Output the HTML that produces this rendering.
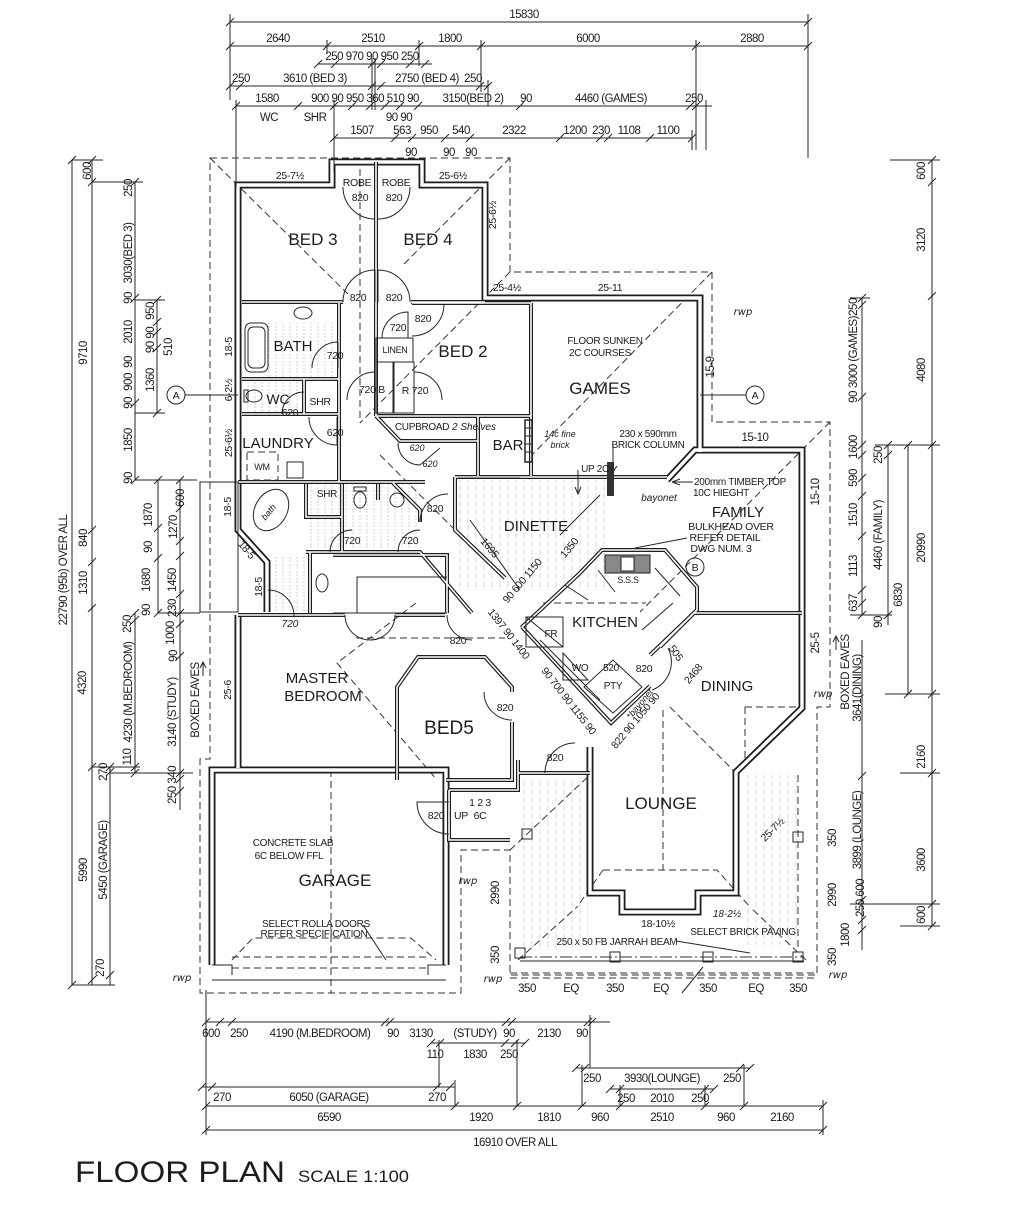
<!DOCTYPE html>
<html><head><meta charset="utf-8">
<style>
html,body{margin:0;padding:0;background:#fff;}
svg{display:block;}
text{font-family:"Liberation Sans Narrow","Liberation Sans",sans-serif;fill:#1c1c1c;}
.d{font-size:11.5px;letter-spacing:-0.5px;}
.s{font-size:10px;}
.m{font-size:10.5px;letter-spacing:-0.3px;}
.r{font-size:17px;}
.h{font-family:"DejaVu Sans","Liberation Sans",sans-serif;font-style:italic;font-size:10px;}
.l{stroke:#262626;stroke-width:1;fill:none;}
.t{stroke:#262626;stroke-width:1;fill:none;}
.dash{stroke:#333;stroke-width:1;fill:none;stroke-dasharray:7 4;}
</style></head><body>
<svg width="1024" height="1209" viewBox="0 0 1024 1209" xmlns="http://www.w3.org/2000/svg">
<defs>
<pattern id="tile" width="7" height="7" patternUnits="userSpaceOnUse"><path d="M3,0 V7" stroke="#c4c4c4" stroke-width="0.8" stroke-dasharray="2 2"/></pattern>
<pattern id="vl" width="8" height="8" patternUnits="userSpaceOnUse"><path d="M4,0 V8" stroke="#d0d0d0" stroke-width="0.8" stroke-dasharray="3 2"/></pattern>
<path id="ext" d="M238,300 V185 H332 V162 H422 V185 H485 V298 H700 V452
M238,185 V530 L267,562 V612
M238,615 V768
M667,480 L695,450 H802 V708 L736,772 V893 H698 V912 H622 V893 H590 V747
M212,965 V770 H446 V965"/>
<path id="int" d="M376,162 V302
M242,302 H343 M411,302 H485
M412,303 H531 M531,303 V476
M376,416 H531
M339,303 V482
M242,379 H339 M242,414 H339 M304,379 V414
M238,482 H425
M376,302 V416
M376,416 L400,441 H478 M478,416 V476
M455,477 H667
M306,484 V517 H342 M342,484 V552 M378,484 V500
M393,483 L420,510 V522
M306,552 H420 L472,613
M455,477 V530 L505,578
M238,615 H345 M395,615 H445
M310,552 V613 M333,555 H447 V613
M397,780 V687 L418,657 H485 L512,687 V692 M512,722 V780 H446
M449,790 V840 H510
M518,760 V790 H449
M518,773 H590
M694,613 H802 M694,613 L660,647
M580,573 L602,550 H665 L697,587 V610 L650,655
M522,627 L580,573
M522,627 L611,723 L650,686"/>
</defs>
<rect width="1024" height="1209" fill="#fff"/>

<!-- hatched floors -->
<rect x="268" y="323" width="70" height="54" fill="url(#tile)"/>
<rect x="242" y="380" width="60" height="33" fill="url(#tile)"/>
<rect x="306" y="484" width="114" height="68" fill="url(#tile)"/>
<rect x="270" y="555" width="40" height="57" fill="url(#tile)"/>
<rect x="458" y="480" width="150" height="110" fill="url(#vl)"/>
<rect x="520" y="780" width="68" height="170" fill="url(#vl)"/>
<rect x="745" y="775" width="55" height="170" fill="url(#vl)"/>

<!-- eaves dashed outline & hips -->
<g class="dash">
<path d="M210,158 H510 V272 H712 V422 H830 V707 H817 V975 H510 V850 H461 V993 H200 V759 H210 Z"/>
<path d="M210,158 L350,296 M510,158 L404,264 M360,158 V423 M510,272 L360,423 M712,272 L527,460 M455,530 L380,455"/>
<path d="M830,422 L640,612 M745,707 H800 M745,707 V767 M670,707 L733,770"/>
<path d="M356,638 H505 M416,603 L337,663 L437,780"/>
<path d="M663,710 V870 M603,870 H717 L750,907 M603,870 L577,907"/>
<path d="M510,850 L592,773 M518,960 L577,907 M806,960 L750,907 M798,775 V950"/>
<path d="M331,770 V993 M232,960 L253,938 H411 L436,960 M232,957 H428 M232,968 H428"/>
<path d="M510,973 H817 M510,978 H817"/>
<path d="M543,603 H646 M520,627 L556,597"/>
</g>
<path d="M520,957 H804" stroke="#333" stroke-width="1" stroke-dasharray="12 3 2 3" fill="none"/>
<path d="M520,961 H804" class="l"/>

<!-- walls -->
<use href="#ext" fill="none" stroke="#1e1e1e" stroke-width="7"/>
<use href="#ext" fill="none" stroke="#fff" stroke-width="3.4"/>
<use href="#int" fill="none" stroke="#1e1e1e" stroke-width="4"/>
<use href="#int" fill="none" stroke="#fff" stroke-width="1.6"/>
<path class="l" d="M212,965 H232 V975 M446,965 H428 V975 M212,980 H446"/>
<rect x="200" y="482" width="38" height="130" class="l"/>
<rect x="607" y="462" width="7" height="34" fill="#333"/>
<rect x="525" y="420" width="7" height="42" fill="none" stroke="#222" stroke-width="1.5"/>
<path class="l" d="M525,428 H532 M525,436 H532 M525,444 H532 M525,452 H532"/>
<rect x="376" y="338" width="37" height="24" class="l"/>
<rect x="376" y="362" width="17" height="51" class="l"/>
<rect x="394" y="362" width="20" height="51" class="l"/>
<path class="l" d="M357,613 V577 H447 M333,613 H447"/>

<!-- fixtures -->
<rect x="245" y="323" width="23" height="49" rx="6" class="l"/>
<rect x="248" y="327" width="17" height="41" rx="5" class="l"/>
<ellipse cx="303" cy="313" rx="9" ry="6" class="l"/>
<ellipse cx="254" cy="396" rx="8" ry="6" class="l"/>
<rect x="244" y="390" width="4" height="12" class="l"/>
<ellipse cx="360" cy="500" rx="6" ry="8" class="l"/>
<rect x="354" y="487" width="12" height="4" class="l"/>
<ellipse cx="397" cy="500" rx="7" ry="7" class="l"/>
<ellipse cx="322" cy="583" rx="6" ry="9" class="l"/>
<ellipse cx="271" cy="510" rx="16" ry="22" transform="rotate(30 271 510)" class="l"/>
<rect x="247" y="452" width="31" height="28" class="dash"/>
<rect x="287" y="462" width="16" height="16" class="l"/>
<rect x="605" y="555" width="45" height="18" fill="#888" stroke="#222"/>
<rect x="621" y="557" width="13" height="14" fill="#fff" stroke="#222"/>
<path class="l" d="M526,617 L563,647 M563,653 L588,680 L563,680 Z M584,687 L613,660 L642,687 L613,713 Z M565,585 L588,600 M642,630 L673,603 M598,570 L615,592 M655,568 L680,596 M540,640 L600,700"/>
<rect x="526" y="617" width="37" height="30" class="l"/>
<g class="l">
<rect x="522" y="829" width="10" height="10"/><rect x="515" y="948" width="10" height="10"/>
<rect x="610" y="952" width="10" height="10"/><rect x="703" y="952" width="10" height="10"/>
<rect x="793" y="952" width="10" height="10"/><rect x="793" y="832" width="10" height="10"/>
</g>

<!-- doors -->
<g class="t">
<path d="M343,187 A32,32 0 0 0 375,219 M410,187 A32,32 0 0 1 378,219"/>
<path d="M343,302 A32,32 0 0 1 375,270 V302 M410,302 A32,32 0 0 0 378,270 V302"/>
<path d="M444,304 A32,32 0 0 1 412,336 M382,338 A26,26 0 0 1 408,312 V338"/>
<path d="M347,400 A28,28 0 0 1 375,372 M442,400 A28,28 0 0 0 414,372"/>
<path d="M338,342 A26,26 0 0 0 312,368 M338,342 V368"/>
<path d="M282,414 A22,22 0 0 1 304,392"/>
<path d="M309,417 A28,28 0 0 0 337,445 V417"/>
<path d="M398,443 A22,22 0 0 0 420,465 M420,465 L440,448"/>
<path d="M330,552 A22,22 0 0 1 352,530 M398,552 A22,22 0 0 1 420,530"/>
<path d="M420,522 A28,28 0 0 1 448,494"/>
<path d="M268,590 A26,26 0 0 1 294,616"/>
<path d="M345,615 A25,25 0 0 0 370,640 M395,615 A25,25 0 0 1 370,640"/>
<path d="M447,615 A25,25 0 0 0 472,640"/>
<path d="M512,720 A28,28 0 0 1 484,692"/>
<path d="M545,773 A30,30 0 0 1 575,743"/>
<path d="M449,834 A32,32 0 0 1 417,802 H449"/>
<path d="M652,690 A30,30 0 0 0 668,648"/>
</g>

<!-- leaders / arrows -->
<g class="l">
<path d="M185,395 H238"/><circle cx="176" cy="395" r="9"/>
<path d="M700,395 H746"/><circle cx="755" cy="395" r="9"/>
<circle cx="695" cy="567" r="9"/>
<path d="M687,538 L635,548 M672,482 H693 M613,445 V470 M578,470 V493 M363,925 L386,960 M676,941 L750,953 M682,993 L703,967"/>
<path d="M609,466 L613,472 L617,466 M575,487 L578,494 L581,487 M672,482 L680,479 M672,482 L680,485"/>
<path d="M203,676 V663 M200,668 L203,662 L206,668 M836,650 V636 M833,642 L836,636 L839,642"/>
<path d="M458,478 H520 M470,520 L520,590 M560,535 L600,495"/>
</g>

<!-- ===== TOP DIMENSIONS ===== -->
<g class="l">
<path d="M230,22 H808 M230,14 V100 M808,14 V158"/>
<path d="M230,46 H808 M327,40 V54 M419,40 V66 M481,40 V92 M696,40 V150"/>
<path d="M318,64 H432 M372,58 V110 M375,58 V110"/>
<path d="M230,86 H488 M488,80 V106"/>
<path d="M236,106 H712 M236,100 V188 M334,100 V172 M706,100 V150"/>
<path d="M334,138 H692 M692,130 V150"/>
<path d="M226,26l8,-8 M804,26l8,-8 M226,50l8,-8 M323,50l8,-8 M415,50l8,-8 M477,50l8,-8 M692,50l8,-8 M804,50l8,-8 M314,68l8,-8 M331,68l8,-8 M368,68l8,-8 M377,68l8,-8 M406,68l8,-8 M421,68l8,-8 M226,90l8,-8 M236,90l8,-8 M368,90l8,-8 M377,90l8,-8 M476,90l8,-8 M484,90l8,-8 M232,110l8,-8 M294,110l8,-8 M330,110l8,-8 M348,110l8,-8 M366,110l8,-8 M381,110l8,-8 M396,110l8,-8 M414,110l8,-8 M516,110l8,-8 M686,110l8,-8 M692,110l8,-8 M330,142l8,-8 M391,142l8,-8 M408,142l8,-8 M441,142l8,-8 M466,142l8,-8 M556,142l8,-8 M596,142l8,-8 M604,142l8,-8 M646,142l8,-8 M688,142l8,-8"/>
</g>
<g class="d" text-anchor="middle">
<text x="524" y="18">15830</text>
<text x="278" y="42">2640</text><text x="373" y="42">2510</text><text x="450" y="42">1800</text><text x="588" y="42">6000</text><text x="752" y="42">2880</text>
<text x="372" y="60">250 970 90 950 250</text>
<text x="241" y="82">250</text><text x="315" y="82">3610 (BED 3)</text><text x="427" y="82">2750 (BED 4)</text><text x="473" y="82">250</text>
<text x="267" y="102">1580</text><text x="365" y="102">900 90 950 360 510 90</text><text x="473" y="102">3150(BED 2)</text><text x="526" y="102">90</text><text x="611" y="102">4460 (GAMES)</text><text x="694" y="102">250</text>
<text x="269" y="121">WC</text><text x="315" y="121">SHR</text><text x="399" y="121">90 90</text>
<text x="362" y="134">1507</text><text x="402" y="134">563</text><text x="429" y="134">950</text><text x="461" y="134">540</text><text x="514" y="134">2322</text><text x="575" y="134">1200</text><text x="601" y="134">230</text><text x="629" y="134">1108</text><text x="668" y="134">1100</text>
<text x="411" y="156">90</text><text x="449" y="156">90</text><text x="471" y="156">90</text>
</g>

<!-- ===== LEFT DIMENSIONS ===== -->
<g class="l">
<path d="M72,160 V985 M92,160 V985 M110,767 V985 M135,182 V480 M135,613 V773 M157,300 V413 M158,480 V613 M180,480 V810"/>
<path d="M72,160 H103 M92,182 H143 M135,300 H165 M135,413 H165 M135,480 H197 M158,613 H200 M110,773 H193 M92,767 H140 M72,985 H115"/>
<path d="M68,164l8,-8 M68,989l8,-8 M88,164l8,-8 M88,186l8,-8 M88,534l8,-8 M88,566l8,-8 M88,612l8,-8 M88,771l8,-8 M88,984l8,-8 M106,771l8,-8 M106,776l8,-8 M106,979l8,-8 M131,186l8,-8 M131,302l8,-8 M131,407l8,-8 M131,484l8,-8 M131,617l8,-8 M131,624l8,-8 M131,771l8,-8 M131,777l8,-8 M153,304l8,-8 M153,326l8,-8 M153,336l8,-8 M153,352l8,-8 M153,417l8,-8 M154,484l8,-8 M154,532l8,-8 M154,562l8,-8 M154,617l8,-8 M176,484l8,-8 M176,512l8,-8 M176,545l8,-8 M176,560l8,-8 M176,598l8,-8 M176,617l8,-8 M176,628l8,-8 M176,660l8,-8 M176,777l8,-8 M176,783l8,-8 M176,795l8,-8"/>
</g>
<g class="d" text-anchor="middle">
<text transform="translate(67,570) rotate(-90)">22790 (95b) OVER ALL</text>
<text transform="translate(91,171) rotate(-90)">600</text>
<text transform="translate(87,353) rotate(-90)">9710</text>
<text transform="translate(87,538) rotate(-90)">840</text>
<text transform="translate(87,583) rotate(-90)">1310</text>
<text transform="translate(86,683) rotate(-90)">4320</text>
<text transform="translate(87,870) rotate(-90)">5990</text>
<text transform="translate(104,968) rotate(-90)">270</text>
<text transform="translate(107,772) rotate(-90)">270</text>
<text transform="translate(107,860) rotate(-90)">5450 (GARAGE)</text>
<text transform="translate(132,188) rotate(-90)">250</text>
<text transform="translate(132,253) rotate(-90)">3030(BED 3)</text>
<text transform="translate(132,298) rotate(-90)">90</text>
<text transform="translate(132,332) rotate(-90)">2010</text>
<text transform="translate(132,362) rotate(-90)">90</text>
<text transform="translate(132,382) rotate(-90)">900</text>
<text transform="translate(132,403) rotate(-90)">90</text>
<text transform="translate(132,440) rotate(-90)">1850</text>
<text transform="translate(132,478) rotate(-90)">90</text>
<text transform="translate(154,311) rotate(-90)">950</text>
<text transform="translate(154,340) rotate(-90)">90 90</text>
<text transform="translate(154,380) rotate(-90)">1360</text>
<text transform="translate(172,347) rotate(-90)">510</text>
<text transform="translate(152,515) rotate(-90)">1870</text>
<text transform="translate(152,547) rotate(-90)">90</text>
<text transform="translate(150,580) rotate(-90)">1680</text>
<text transform="translate(150,610) rotate(-90)">90</text>
<text transform="translate(131,624) rotate(-90)">250</text>
<text transform="translate(132,692) rotate(-90)">4230 (M.BEDROOM)</text>
<text transform="translate(131,757) rotate(-90)">110</text>
<text transform="translate(184,498) rotate(-90)">600</text>
<text transform="translate(177,527) rotate(-90)">1270</text>
<text transform="translate(176,580) rotate(-90)">1450</text>
<text transform="translate(176,608) rotate(-90)">230</text>
<text transform="translate(174,633) rotate(-90)">1000</text>
<text transform="translate(177,656) rotate(-90)">90</text>
<text transform="translate(176,712) rotate(-90)">3140 (STUDY)</text>
<text transform="translate(176,785) rotate(-90)">250 340</text>
<text transform="translate(199,700) rotate(-90)">BOXED EAVES</text>
<text x="176" y="399" class="m">A</text>
</g>
<text x="182" y="981" class="h" text-anchor="middle">rwp</text>

<!-- ===== RIGHT DIMENSIONS ===== -->
<g class="l">
<path d="M932,160 V926 M908,445 V694 M888,445 V625 M862,298 V615 M862,640 V950"/>
<path d="M890,160 H940 M850,298 H870 M875,445 H940 M885,694 H940 M850,615 H892 M900,773 H940 M850,904 H940 M900,926 H940"/>
<path d="M928,164l8,-8 M928,186l8,-8 M928,300l8,-8 M928,449l8,-8 M928,698l8,-8 M928,777l8,-8 M928,908l8,-8 M928,930l8,-8 M904,449l8,-8 M904,698l8,-8 M884,449l8,-8 M884,459l8,-8 M884,619l8,-8 M858,302l8,-8 M858,309l8,-8 M858,401l8,-8 M858,449l8,-8 M858,459l8,-8 M858,482l8,-8 M858,500l8,-8 M858,540l8,-8 M858,594l8,-8 M858,607l8,-8 M858,619l8,-8 M858,780l8,-8 M858,904l8,-8 M858,924l8,-8 M858,934l8,-8"/>
</g>
<g class="d" text-anchor="middle">
<text transform="translate(925,171) rotate(-90)">600</text>
<text transform="translate(925,240) rotate(-90)">3120</text>
<text transform="translate(925,370) rotate(-90)">4080</text>
<text transform="translate(925,548) rotate(-90)">20990</text>
<text transform="translate(902,595) rotate(-90)">6830</text>
<text transform="translate(925,757) rotate(-90)">2160</text>
<text transform="translate(925,860) rotate(-90)">3600</text>
<text transform="translate(925,915) rotate(-90)">600</text>
<text transform="translate(882,455) rotate(-90)">250</text>
<text transform="translate(882,535) rotate(-90)">4460 (FAMILY)</text>
<text transform="translate(882,622) rotate(-90)">90</text>
<text transform="translate(857,307) rotate(-90)">250</text>
<text transform="translate(857,352) rotate(-90)">3000 (GAMES)</text>
<text transform="translate(857,397) rotate(-90)">90</text>
<text transform="translate(857,447) rotate(-90)">1600</text>
<text transform="translate(857,478) rotate(-90)">590</text>
<text transform="translate(857,515) rotate(-90)">1510</text>
<text transform="translate(857,566) rotate(-90)">1113</text>
<text transform="translate(857,603) rotate(-90)">637</text>
<text transform="translate(861,688) rotate(-90)">3641(DINING)</text>
<text transform="translate(861,830) rotate(-90)">3899 (LOUNGE)</text>
<text transform="translate(864,898) rotate(-90)">250 600</text>
<text transform="translate(849,935) rotate(-90)">1800</text>
<text transform="translate(849,672) rotate(-90)">BOXED EAVES</text>
<text transform="translate(819,643) rotate(-90)">25-5</text>
<text transform="translate(819,492) rotate(-90)">15-10</text>
<text transform="translate(714,367) rotate(-90)">15-9</text>
<text transform="translate(836,838) rotate(-90)">350</text>
<text transform="translate(836,895) rotate(-90)">2990</text>
<text transform="translate(836,957) rotate(-90)">350</text>
<text transform="translate(499,893) rotate(-90)">2990</text>
<text transform="translate(499,955) rotate(-90)">350</text>
<text x="755" y="441">15-10</text>
<text x="755" y="399" class="m">A</text>
<text x="695" y="571" class="m">B</text>
</g>
<text x="823" y="697" class="h" text-anchor="middle">rwp</text>
<text x="838" y="978" class="h" text-anchor="middle">rwp</text>
<text x="743" y="315" class="h" text-anchor="middle">rwp</text>
<text x="468" y="884" class="h" text-anchor="middle">rwp</text>
<text x="493" y="982" class="h" text-anchor="middle">rwp</text>

<!-- ===== BOTTOM DIMENSIONS ===== -->
<g class="l">
<path d="M206,1022 H610 M431,1043 H525 M576,1068 H750 M202,1087 H455 M610,1089 H714 M206,1106 H823 M206,1130 H823"/>
<path d="M206,990 V1135 M590,1015 V1068 M439,1040 V1087 M455,1080 V1106 M517,1040 V1106 M582,1065 V1106 M620,1085 V1106 M705,1085 V1106 M744,1065 V1106 M823,1100 V1135"/>
<path d="M202,1026l8,-8 M216,1026l8,-8 M228,1026l8,-8 M381,1026l8,-8 M386,1026l8,-8 M502,1026l8,-8 M508,1026l8,-8 M584,1026l8,-8 M588,1026l8,-8 M427,1047l8,-8 M436,1047l8,-8 M501,1047l8,-8 M511,1047l8,-8 M521,1047l8,-8 M572,1072l8,-8 M581,1072l8,-8 M736,1072l8,-8 M746,1072l8,-8 M198,1091l8,-8 M208,1091l8,-8 M433,1091l8,-8 M446,1091l8,-8 M606,1093l8,-8 M616,1093l8,-8 M701,1093l8,-8 M710,1093l8,-8 M202,1110l8,-8 M451,1110l8,-8 M513,1110l8,-8 M578,1110l8,-8 M616,1110l8,-8 M701,1110l8,-8 M740,1110l8,-8 M819,1110l8,-8 M202,1134l8,-8 M819,1134l8,-8"/>
</g>
<g class="d" text-anchor="middle">
<text x="211" y="1037">600</text><text x="239" y="1037">250</text><text x="320" y="1037">4190 (M.BEDROOM)</text><text x="393" y="1037">90</text><text x="421" y="1037">3130</text><text x="475" y="1037">(STUDY)</text><text x="509" y="1037">90</text><text x="549" y="1037">2130</text><text x="582" y="1037">90</text>
<text x="435" y="1058">110</text><text x="475" y="1058">1830</text><text x="509" y="1058">250</text>
<text x="592" y="1082">250</text><text x="662" y="1082">3930(LOUNGE)</text><text x="732" y="1082">250</text>
<text x="222" y="1101">270</text><text x="329" y="1101">6050 (GARAGE)</text><text x="437" y="1101">270</text>
<text x="626" y="1102">250</text><text x="662" y="1102">2010</text><text x="700" y="1102">250</text>
<text x="329" y="1121">6590</text><text x="481" y="1121">1920</text><text x="549" y="1121">1810</text><text x="600" y="1121">960</text><text x="662" y="1121">2510</text><text x="726" y="1121">960</text><text x="782" y="1121">2160</text>
<text x="515" y="1146">16910 OVER ALL</text>
<text x="527" y="992">350</text><text x="571" y="992">EQ</text><text x="615" y="992">350</text><text x="661" y="992">EQ</text><text x="708" y="992">350</text><text x="756" y="992">EQ</text><text x="798" y="992">350</text>
</g>
<text x="75" y="1182" font-size="30" fill="#444" textLength="210" lengthAdjust="spacingAndGlyphs">FLOOR PLAN</text>
<text x="298" y="1182" font-size="17" fill="#444" textLength="111" lengthAdjust="spacingAndGlyphs">SCALE 1:100</text>

<!-- ===== ROOM LABELS ===== -->
<g class="r" text-anchor="middle">
<text x="313" y="245">BED 3</text>
<text x="428" y="245">BED 4</text>
<text x="463" y="357">BED 2</text>
<text x="600" y="394">GAMES</text>
<text x="293" y="351" font-size="15">BATH</text>
<text x="278" y="404" font-size="14">WC</text>
<text x="278" y="448" font-size="15">LAUNDRY</text>
<text x="508" y="450" font-size="15">BAR</text>
<text x="536" y="531" font-size="15">DINETTE</text>
<text x="738" y="517" font-size="15">FAMILY</text>
<text x="605" y="627" font-size="15">KITCHEN</text>
<text x="727" y="691" font-size="15">DINING</text>
<text x="661" y="809">LOUNGE</text>
<text x="317" y="683" font-size="15">MASTER</text>
<text x="323" y="701" font-size="15">BEDROOM</text>
<text x="449" y="734" font-size="19">BED5</text>
<text x="335" y="886">GARAGE</text>
</g>
<g class="m" text-anchor="middle">
<text x="357" y="186">ROBE</text><text x="396" y="186">ROBE</text>
<text x="360" y="201">820</text><text x="394" y="201">820</text>
<text x="358" y="301">820</text><text x="394" y="301">820</text>
<text x="290" y="179">25-7½</text><text x="453" y="179">25-6½</text>
<text x="507" y="291">25-4½</text><text x="610" y="291">25-11</text>
<text x="423" y="322">820</text><text x="398" y="331">720</text>
<text x="395" y="353" font-size="9">LINEN</text>
<text x="372" y="393">720 B</text><text x="415" y="394">R 720</text>
<text x="335" y="359">720</text><text x="290" y="416">620</text>
<text x="320" y="405">SHR</text>
<text x="335" y="436">620</text>
<text x="262" y="470" font-size="9">WM</text>
<text x="605" y="344" font-size="10">FLOOR SUNKEN</text>
<text x="600" y="356" font-size="10">2C COURSES</text>
<text x="422" y="430" font-size="10">CUPBROAD</text>
<text x="648" y="437" font-size="10">230 x 590mm</text>
<text x="648" y="448" font-size="10">BRICK COLUMN</text>
<text x="595" y="472" font-size="10">UP 2C</text>
<text x="740" y="485" font-size="10">200mm TIMBER TOP</text>
<text x="721" y="496" font-size="10">10C HIEGHT</text>
<text x="731" y="530">BULKHEAD OVER</text>
<text x="725" y="541">REFER DETAIL</text>
<text x="721" y="552">DWG NUM. 3</text>
<text x="628" y="583" font-size="9">S.S.S</text>
<text x="327" y="497" font-size="10">SHR</text>
<text x="435" y="512">820</text>
<text x="352" y="544">720</text><text x="410" y="544">720</text>
<text x="458" y="644">820</text>
<text x="551" y="637" font-size="10">FR</text>
<text x="580" y="671" font-size="10">WO</text>
<text x="611" y="671" font-size="10">520</text>
<text x="613" y="689" font-size="10">PTY</text>
<text x="644" y="672">820</text>
<text x="505" y="711">820</text>
<text x="555" y="761">820</text>
<text x="436" y="819">820</text>
<text x="461" y="819">UP</text><text x="480" y="819">6C</text>
<text x="480" y="806">1 2 3</text>
<text x="293" y="846" font-size="10">CONCRETE SLAB</text>
<text x="289" y="859" font-size="10">6C BELOW FFL</text>
<text x="316" y="927" font-size="10">SELECT ROLLA DOORS</text>
<text x="314" y="937" font-size="10">REFER SPECIFICATION</text>
<text x="617" y="945" font-size="10">250 x 50 FB JARRAH BEAM</text>
<text x="743" y="935" font-size="10">SELECT BRICK PAVING</text>
<text x="658" y="927">18-10½</text>
</g>
<g class="m" text-anchor="middle">
<text transform="translate(496,215) rotate(-90)">25-6½</text>
<text transform="translate(232,347) rotate(-90)">18-5</text>
<text transform="translate(232,390) rotate(-90)">6-2½</text>
<text transform="translate(232,443) rotate(-90)">25-6½</text>
<text transform="translate(231,507) rotate(-90)">18-5</text>
<text transform="translate(244,552) rotate(50)">18-5</text>
<text transform="translate(262,587) rotate(-90)">18-5</text>
<text transform="translate(231,690) rotate(-90)">25-6</text>
<text transform="translate(487,550) rotate(50)">1695</text>
<text transform="translate(572,550) rotate(-50)">1350</text>
<text transform="translate(525,583) rotate(-50)">90 600 1150</text>
<text transform="translate(506,636) rotate(52)">1397 90 1400</text>
<text transform="translate(566,703) rotate(52)">90 700 90 1155 90</text>
<text transform="translate(638,723) rotate(-50)">822 90 1050 90</text>
<text transform="translate(696,676) rotate(-50)">2468</text>
<text transform="translate(673,655) rotate(55)">505</text>
<text transform="translate(775,832) rotate(-45)">25-7½</text>
</g>
<g class="h" text-anchor="middle">
<text x="474" y="430">2 Shelves</text>
<text x="560" y="437" font-size="9">14c fine</text>
<text x="560" y="448" font-size="9">brick</text>
<text x="659" y="501">bayonet</text>
<text x="417" y="451" font-size="9">620</text>
<text x="430" y="467" font-size="9">620</text>
<text x="271" y="514" font-size="9" transform="rotate(-50 271 514)">bath</text>
<text x="290" y="627">720</text>
<text x="727" y="917">18-2½</text>
<text x="642" y="706" font-size="9" transform="rotate(-50 642 706)">*bayonet</text>
</g>
</svg>
</body></html>
